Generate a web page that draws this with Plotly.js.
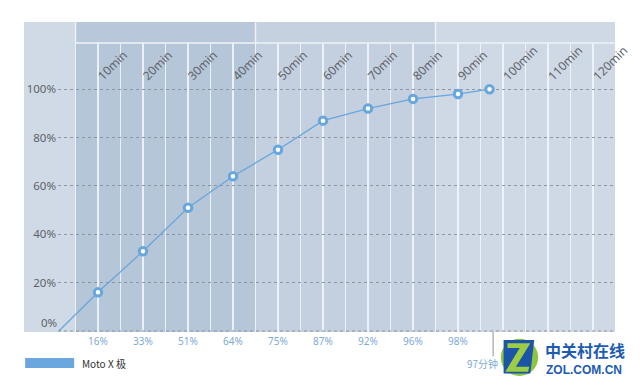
<!DOCTYPE html>
<html>
<head>
<meta charset="utf-8">
<script src="https://cdn.plot.ly/plotly-3.0.1.min.js"></script>
<style>html,body{margin:0;padding:0;background:#fff;}#chart{width:640px;height:387px;}</style>
</head>
<body>
<div id="chart"></div>
<script>
// ---- data ----
const seriesName = "Moto X 极";
const startTime = 1.3;          // where the curve leaves 0%
const times = [10, 20, 30, 40, 50, 60, 70, 80, 90, 97];
const charge = [16, 33, 51, 64, 75, 87, 92, 96, 98, 100];
const chargeLabels = ["16%", "33%", "51%", "64%", "75%", "87%", "92%", "96%", "98%"];
const timeTicks = [10, 20, 30, 40, 50, 60, 70, 80, 90, 100, 110, 120];
const timeTickLabels = ["10min", "20min", "30min", "40min", "50min", "60min", "70min", "80min", "90min", "100min", "110min", "120min"];
const yTicks = [0, 20, 40, 60, 80, 100];
const yTickLabels = ["", "20%", "40%", "60%", "80%", "100%"];
const finishLabel = "97分钟";
const finishTime = 97;

// ---- styling ----
const lineColor = "#68a6de";
const xRange = [1.111, 124.889];
const yRange = [-0.4, 127.8];
const gridX = [];
for (let t = 5; t <= 120; t += 5) gridX.push(t);
const headerY = 0.9323;

const traces = [
  {
    x: [startTime].concat(times),
    y: [0].concat(charge),
    mode: "lines",
    line: {color: lineColor, width: 1.3},
    hoverinfo: "skip",
    showlegend: false
  },
  {
    x: times,
    y: charge,
    mode: "markers",
    marker: {size: 7.5, color: "#ffffff", line: {color: lineColor, width: 3}},
    name: seriesName,
    showlegend: false
  }
];

const shapes = [
  // outer panel
  {type: "rect", xref: "paper", yref: "paper", x0: -0.061, x1: 1, y0: 0, y1: 1, fillcolor: "#cfdae6", line: {width: 0}, layer: "below"},
  // bands
  {type: "rect", xref: "x", yref: "paper", x0: 5, x1: 45, y0: 0, y1: 1, fillcolor: "#b6c6d9", line: {width: 0}, layer: "below"},
  {type: "rect", xref: "x", yref: "paper", x0: 45, x1: 85, y0: 0, y1: 1, fillcolor: "#c4d0df", line: {width: 0}, layer: "below"},
  {type: "rect", xref: "x", yref: "paper", x0: 85, x1: 125, y0: 0, y1: 1, fillcolor: "#ced9e5", line: {width: 0}, layer: "below"},
  // header band cover
  {type: "rect", xref: "x", yref: "paper", x0: 5, x1: 45, y0: headerY, y1: 1, fillcolor: "#b8c7d9", line: {width: 0}, layer: "above"},
  {type: "rect", xref: "x", yref: "paper", x0: 45, x1: 85, y0: headerY, y1: 1, fillcolor: "#c5d1df", line: {width: 0}, layer: "above"},
  {type: "rect", xref: "x", yref: "paper", x0: 85, x1: 124.889, y0: headerY, y1: 1, fillcolor: "#cfd9e6", line: {width: 0}, layer: "above"},
  {type: "line", xref: "x", yref: "paper", x0: 5, x1: 124.889, y0: headerY, y1: headerY, line: {color: "#eef2f7", width: 1.5}, layer: "above"},
  {type: "line", xref: "x", yref: "paper", x0: 5, x1: 5, y0: headerY, y1: 1, line: {color: "#eef2f7", width: 1.5}, layer: "above"},
  {type: "line", xref: "x", yref: "paper", x0: 45, x1: 45, y0: headerY, y1: 1, line: {color: "#eef2f7", width: 1.5}, layer: "above"},
  {type: "line", xref: "x", yref: "paper", x0: 85, x1: 85, y0: headerY, y1: 1, line: {color: "#eef2f7", width: 1.5}, layer: "above"},
  // baseline (0%) dotted
  {type: "line", xref: "paper", yref: "y", x0: 0, x1: 1, y0: yTicks[0], y1: yTicks[0], line: {color: "#8d96a2", width: 1, dash: "dot"}, layer: "above"},
  // finish marker line
  {type: "line", xref: "x", yref: "paper", x0: finishTime + 0.8, x1: finishTime + 0.8, y0: 0, y1: -0.078, line: {color: "#8a8f96", width: 1}, layer: "above"},
  // legend swatch
  {type: "rect", xref: "paper", yref: "paper", x0: -0.059, x1: 0.029, y0: -0.084, y1: -0.116, fillcolor: "#6aa7de", line: {width: 0}},
  // logo icon
  {type: "circle", xref: "paper", yref: "paper", x0: 0.795, x1: 0.862, y0: -0.142, y1: -0.022, fillcolor: "#8cc63f", line: {width: 0}},
  {type: "path", xref: "paper", yref: "paper", path: "M 0.800 -0.026 L 0.855 -0.026 L 0.848 -0.134 L 0.800 -0.134 Z", fillcolor: "#1c55a8", line: {width: 0}},
  {type: "path", xref: "paper", yref: "paper", path: "M 0.807 -0.036 L 0.848 -0.036 L 0.822 -0.112 L 0.846 -0.112 L 0.844 -0.128 L 0.803 -0.128 L 0.829 -0.052 L 0.807 -0.052 Z", fillcolor: "#9ccd44", line: {width: 0}}
];

const annotations = [];
for (let i = 0; i < timeTicks.length; i++) {
  annotations.push({
    x: timeTicks[i], xref: "x", y: 0.79, yref: "paper",
    text: timeTickLabels[i], showarrow: false, textangle: -45,
    xanchor: "left", yanchor: "bottom", xshift: -7,
    font: {family: "Noto Sans", size: 12, color: "#5e6268"}
  });
}
for (let i = 0; i < chargeLabels.length; i++) {
  annotations.push({
    x: times[i], xref: "x", y: -0.028, yref: "paper",
    text: chargeLabels[i], showarrow: false, xanchor: "center", yanchor: "middle",
    font: {family: "Noto Sans", size: 10, color: "#7eaad6"}
  });
}
annotations.push({
  x: finishTime - 1.6, xref: "x", y: -0.1, yref: "paper",
  text: finishLabel, showarrow: false, xanchor: "center", yanchor: "middle",
  font: {family: "Noto Sans CJK SC", size: 10, color: "#7eaad6"}
});
annotations.push({
  x: 0, xref: "paper", y: 3.6, yref: "y",
  text: "0%", showarrow: false, xanchor: "right", yanchor: "middle", xshift: 1,
  font: {family: "Noto Sans", size: 11.5, color: "#5e6268"}
});
annotations.push({
  x: 0.039, xref: "paper", y: -0.1, yref: "paper",
  text: seriesName, showarrow: false, xanchor: "left", yanchor: "middle",
  font: {family: "Noto Sans CJK SC", size: 10, color: "#333333"}
});
annotations.push({
  x: 0.870, xref: "paper", y: -0.058, yref: "paper",
  text: "<b>中关村在线</b>", showarrow: false, xanchor: "left", yanchor: "middle",
  font: {family: "Noto Sans CJK SC", size: 16, color: "#1d5bb0"}
});
annotations.push({
  x: 0.872, xref: "paper", y: -0.124, yref: "paper",
  text: "<b>ZOL.COM.CN</b>", showarrow: false, xanchor: "left", yanchor: "middle",
  font: {family: "Liberation Sans", size: 12, color: "#1d5bb0"}
});

const layout = {
  width: 640, height: 387,
  margin: {l: 58, r: 25, t: 22, b: 55},
  paper_bgcolor: "#ffffff",
  plot_bgcolor: "rgba(0,0,0,0)",
  showlegend: false,
  font: {family: "Noto Sans", size: 12, color: "#5e6268"},
  xaxis: {
    range: xRange, tickmode: "array", tickvals: gridX, showticklabels: false,
    showgrid: true, gridcolor: "rgba(240,244,249,0.9)", gridwidth: 1.5,
    zeroline: false, showline: false, ticks: "", fixedrange: true
  },
  yaxis: {
    range: yRange, tickmode: "array", tickvals: yTicks, ticktext: yTickLabels,
    showgrid: true, gridcolor: "#8d96a2", gridwidth: 1, griddash: "dot",
    zeroline: false, showline: false, ticks: "", ticklabelstandoff: 1,
    tickfont: {family: "Noto Sans", size: 11.5, color: "#5e6268"}, fixedrange: true
  },
  shapes: shapes,
  annotations: annotations
};

Plotly.newPlot("chart", traces, layout, {displayModeBar: false, staticPlot: true});
</script>
</body>
</html>
